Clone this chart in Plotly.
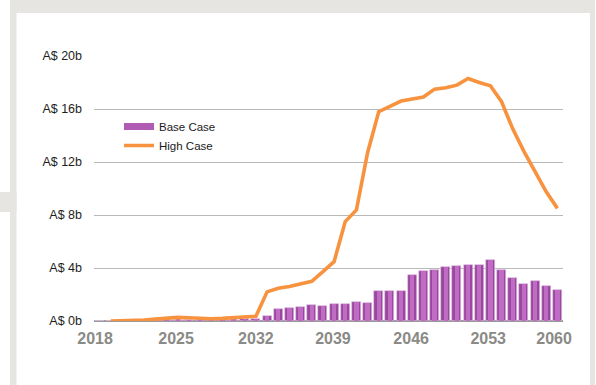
import plotly.graph_objects as go

# ---------------- data ----------------
years = list(range(2018, 2060))
base_case = [0.0, 0.0, 0.0, 0.01, 0.02, 0.03, 0.05, 0.08, 0.07, 0.04,
             0.05, 0.07, 0.10, 0.13, 0.15, 0.38, 0.88, 0.98, 1.09, 1.22,
             1.14, 1.29, 1.26, 1.40, 1.34, 2.30, 2.29, 2.26, 3.47, 3.77,
             3.85, 4.08, 4.18, 4.25, 4.23, 4.58, 3.85, 3.25, 2.82, 3.00,
             2.64, 2.36]
high_case = [None, 0.0, 0.01, 0.03, 0.08, 0.14, 0.20, 0.27, 0.25, 0.20,
             0.17, 0.20, 0.26, 0.32, 0.36, 2.20, 2.47, 2.60, 2.80, 3.00,
             3.72, 4.48, 7.50, 8.38, 12.70, 15.80, 16.20, 16.60, 16.75, 16.90,
             17.50, 17.60, 17.80, 18.30, 18.00, 17.75, 16.55, 14.50, 12.80, 11.30,
             9.75, 8.50]
x_tick_labels = ["2018", "2025", "2032", "2039", "2046", "2053", "2060"]
x_tick_pos = [2017.6, 2024.85, 2032, 2038.9, 2045.9, 2052.8, 2058.7]
y_ticks = [0, 4, 8, 12, 16, 20]
y_tick_labels = ["A$ 0b", "A$ 4b", "A$ 8b", "A$ 12b", "A$ 16b", "A$ 20b"]

# ---------------- layout constants ----------------
W, H = 596, 385
ML, MR, MT, MB = 94, 33, 56, 64
PW, PH = W - ML - MR, H - MT - MB
FONT = "Liberation Sans, Arial, sans-serif"


def px_x(p):
    return (p - ML) / PW


def px_y(p):
    return (H - MB - p) / PH


fig = go.Figure()

fig.add_trace(go.Bar(
    x=years, y=base_case, width=0.8, name="Base Case", showlegend=False,
    marker=dict(color="#9a479e", line=dict(color="#e3c6e6", width=0.6)),
    hoverinfo="x+y",
))
fig.add_trace(go.Bar(
    x=years, y=base_case, width=0.38, showlegend=False,
    marker=dict(color="#c06cc4", line=dict(width=0)),
    hoverinfo="skip",
))
fig.add_trace(go.Scatter(
    x=years, y=high_case, mode="lines", name="High Case", showlegend=False,
    line=dict(color="#f7923f", width=3.6), connectgaps=False,
))
# legend entries
fig.add_trace(go.Scatter(
    x=[None], y=[None], mode="lines", name="Base Case",
    line=dict(color="#b05cb4", width=7),
))
fig.add_trace(go.Scatter(
    x=[None], y=[None], mode="lines", name="High Case",
    line=dict(color="#f7923f", width=3.5),
))

gray = "#e7e5e2"
shapes = [
    dict(type="rect", xref="paper", yref="paper", layer="below",
         x0=px_x(10), x1=px_x(595), y0=px_y(400), y1=px_y(0),
         fillcolor=gray, line=dict(width=0)),
    dict(type="rect", xref="paper", yref="paper", layer="below",
         x0=px_x(16.5), x1=px_x(590), y0=px_y(400), y1=px_y(13),
         fillcolor="white", line=dict(width=0)),
    dict(type="rect", xref="paper", yref="paper", layer="below",
         x0=px_x(0), x1=px_x(16.5), y0=px_y(212), y1=px_y(192),
         fillcolor=gray, line=dict(width=0)),
]

fig.update_layout(
    width=W, height=H,
    margin=dict(l=ML, r=MR, t=MT, b=MB, pad=0),
    paper_bgcolor="white", plot_bgcolor="rgba(0,0,0,0)",
    barmode="overlay", bargap=0,
    shapes=shapes,
    font=dict(family=FONT, color="#222222"),
    legend=dict(
        x=px_x(119), y=px_y(112), xanchor="left", yanchor="top",
        bgcolor="rgba(0,0,0,0)", font=dict(family=FONT, size=11.5, color="#1a1a1a"),
        tracegroupgap=0, itemwidth=30,
    ),
    xaxis=dict(
        range=[2017.5, 2059.5], tickmode="array",
        tickvals=x_tick_pos, ticktext=x_tick_labels,
        showgrid=False, zeroline=False, showline=False, ticks="",
        ticklabelstandoff=6,
        tickfont=dict(family=FONT, size=16, color="#8a8a86", weight="bold"),
        fixedrange=True,
    ),
    yaxis=dict(
        range=[0, 20], tickmode="array", tickvals=y_ticks, ticktext=y_tick_labels,
        showgrid=True, gridcolor="#b9b9b9", gridwidth=1,
        zeroline=True, zerolinecolor="#9a9a9a", zerolinewidth=1.5,
        showline=False, ticks="", ticklabelstandoff=11,
        tickfont=dict(family=FONT, size=12.5, color="#1e1e1e"),
        fixedrange=True,
    ),
)

fig.write_html("out.html")
